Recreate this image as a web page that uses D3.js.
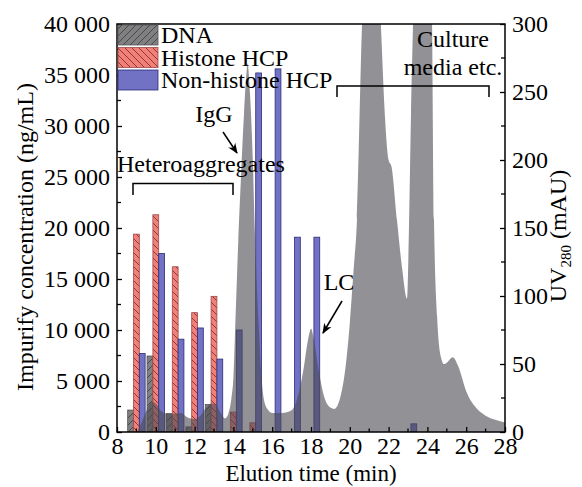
<!DOCTYPE html>
<html><head><meta charset="utf-8">
<script src="https://cdn.jsdelivr.net/npm/d3@7"></script>
<style>body{margin:0;background:#fff}svg{display:block}</style>
</head><body><svg id="c" width="582" height="487"></svg>
<script>
// ---- data ----
const groupTimes = [9, 10, 11, 12, 13, 14, 15, 16, 17, 18, 23];
const dnaValues = [2150, 7450, 1800, 500, 2700, 0, 0, 0, 0, 0, 0];
const histoneValues = [19400, 21300, 16200, 11700, 13300, 1950, 900, 0, 0, 0, 0];
const nonHistoneValues = [7700, 17500, 9100, 10200, 7150, 10000, 35200, 35600, 19100, 19100, 800];
const seriesNames = ["DNA", "Histone HCP", "Non-histone HCP"];
const uvTime = [8, 9.0, 9.2, 9.5, 9.8, 10.0, 10.3, 10.6, 11.0, 11.3, 11.6, 12.0, 12.3, 12.6, 12.9, 13.1, 13.3, 13.57, 13.75, 13.9, 14.0, 14.1, 14.25, 14.4, 14.55, 14.68, 14.73, 14.85, 15.0, 15.1, 15.2, 15.3, 15.45, 15.6, 15.8, 16.0, 16.5, 17.0, 17.3, 17.6, 17.85, 18.0, 18.15, 18.4, 18.7, 19.0, 19.2, 19.5, 19.8, 20.0, 20.2, 20.37, 20.63, 20.85, 21.1, 21.35, 21.6, 21.8, 22.0, 22.15, 22.43, 22.7, 22.95, 23.05, 23.15, 23.26, 23.5, 23.75, 24.0, 24.24, 24.34, 24.5, 24.7, 24.85, 25.0, 25.3, 25.6, 26.0, 26.5, 27.0, 27.5, 28];
const uvValue = [0, 0, 5, 15, 22, 21, 15, 13.5, 13.5, 14, 11, 9.5, 12, 18, 21, 20, 15, 10, 14, 25, 40, 80, 140, 190, 235, 265, 271, 250, 200, 150, 110, 80, 40, 22, 16, 14, 14, 16, 25, 45, 68, 76, 68, 45, 25, 18, 17, 25, 50, 80, 120, 156, 300, 380, 420, 380, 300, 235, 200, 195, 156, 120, 98, 150, 230, 300, 400, 430, 400, 300, 156, 85, 55, 50, 51, 55, 48, 30, 18, 12, 9, 7];
const xTickValues = [8, 10, 12, 14, 16, 18, 20, 22, 24, 26, 28];
const leftTickValues = [0, 5000, 10000, 15000, 20000, 25000, 30000, 35000, 40000];
const rightTickValues = [0, 50, 100, 150, 200, 250, 300];

// ---- layout ----
const L = 117, R = 505, T = 24, B = 432;
const FONT = "'Liberation Serif','Times New Roman',serif";
const svg = d3.select("#c");
const x = d3.scaleLinear().domain([8, 28]).range([L, R]);
const yL = d3.scaleLinear().domain([0, 40000]).range([B, T]);
const yR = d3.scaleLinear().domain([0, 300]).range([B, T]);
const half = 0.15, off = 0.3;

const defs = svg.append("defs");
function hatch(id, bg, line, dir) {
  const p = defs.append("pattern").attr("id", id).attr("patternUnits", "userSpaceOnUse")
    .attr("width", 7).attr("height", 7);
  p.append("rect").attr("width", 7).attr("height", 7).attr("fill", bg);
  const d = dir === "back" ? "M-1,-1 L8,8 M-1,6 L1,8 M6,-1 L8,1" : "M-1,8 L8,-1 M-1,1 L1,-1 M6,8 L8,6";
  p.append("path").attr("d", d).attr("stroke", line).attr("stroke-width", 0.8);
}
hatch("hDNA", "#808083", "#3a3a3a", "fwd");
hatch("hHis", "#f28079", "#6e2a2a", "back");
defs.append("clipPath").attr("id", "plotClip").append("rect")
  .attr("x", L).attr("y", T).attr("width", R - L).attr("height", B - T);

const groups = groupTimes.map((t, i) => ({ t, dna: dnaValues[i], his: histoneValues[i], non: nonHistoneValues[i] }));
const gBars = svg.append("g").attr("clip-path", "url(#plotClip)");
function bars(key, shift, fill, stroke) {
  gBars.selectAll(null).data(groups.filter(d => d[key] > 0)).enter().append("rect")
    .attr("x", d => x(d.t + shift - half))
    .attr("width", d => x(d.t + shift + half) - x(d.t + shift - half))
    .attr("y", d => yL(d[key]))
    .attr("height", d => yL(0) - yL(d[key]))
    .attr("fill", fill).attr("stroke", stroke).attr("stroke-width", 0.8);
}
bars("dna", -off, "url(#hDNA)", "#555");
bars("his", 0, "url(#hHis)", "#9a4a4a");
bars("non", off, "#7272c4", "#2c2c7c");

// UV trace
const uv = uvTime.map((t, i) => ({ t, v: uvValue[i] }));
const area = d3.area().x(d => x(d.t)).y0(yR(0)).y1(d => yR(d.v)).curve(d3.curveMonotoneX);
svg.append("path").datum(uv).attr("clip-path", "url(#plotClip)")
  .attr("d", area).attr("fill", "#4a4a50").attr("fill-opacity", 0.6);

// axes (major ticks with labels)
const axisStyle = g => {
  g.selectAll("text").attr("font-family", FONT).attr("font-size", 24).attr("fill", "#000");
  g.selectAll(".domain").remove();
  g.selectAll("line").attr("stroke", "#000").attr("stroke-width", 1.3);
};
const fmt = v => d3.format(",")(v).replace(/,/g, " ");
svg.append("g").attr("transform", `translate(0,${B})`)
  .call(d3.axisBottom(x).tickValues(xTickValues).tickSize(-5).tickPadding(5))
  .call(axisStyle);
svg.append("g").attr("transform", `translate(${L},0)`)
  .call(d3.axisLeft(yL).tickValues(leftTickValues).tickSize(-5).tickPadding(7).tickFormat(fmt))
  .call(axisStyle);
svg.append("g").attr("transform", `translate(${R},0)`)
  .call(d3.axisRight(yR).tickValues(rightTickValues).tickSize(-5).tickPadding(7))
  .call(axisStyle);

// minor ticks
const minor = svg.append("g").attr("stroke", "#000").attr("stroke-width", 1.3);
minor.selectAll(null).data(d3.range(9, 28, 2)).enter().append("line")
  .attr("x1", d => x(d)).attr("x2", d => x(d)).attr("y1", B).attr("y2", B - 3.5);
minor.selectAll(null).data(d3.range(2500, 40000, 5000)).enter().append("line")
  .attr("x1", L).attr("x2", L + 4).attr("y1", d => yL(d)).attr("y2", d => yL(d));
minor.selectAll(null).data(d3.range(25, 300, 50)).enter().append("line")
  .attr("x1", R).attr("x2", R - 4).attr("y1", d => yR(d)).attr("y2", d => yR(d));

// frame
svg.append("rect").attr("x", L).attr("y", T).attr("width", R - L).attr("height", B - T)
  .attr("fill", "none").attr("stroke", "#000").attr("stroke-width", 1.5);

// axis titles
const txt = (s, xx, yy, anchor, fs) => svg.append("text").attr("x", xx).attr("y", yy)
  .attr("font-family", FONT).attr("font-size", fs || 24).attr("text-anchor", anchor || "start").text(s);
txt("Elution time (min)", (L + R) / 2, 481, "middle", 23);
svg.append("text").attr("transform", "translate(33,237) rotate(-90)")
  .attr("font-family", FONT).attr("font-size", 24).attr("text-anchor", "middle")
  .text("Impurify concentration (ng/mL)");
const uvT = svg.append("text").attr("transform", "translate(566,236) rotate(-90)")
  .attr("font-family", FONT).attr("font-size", 24).attr("text-anchor", "middle");
uvT.append("tspan").text("UV");
uvT.append("tspan").attr("font-size", 15).attr("dy", 5).text("280");
uvT.append("tspan").attr("dy", -5).text(" (mAU)");

// legend
const legFill = ["url(#hDNA)", "url(#hHis)", "#7272c4"];
const legStroke = ["#555", "#9a4a4a", "#2c2c7c"];
seriesNames.forEach((n, i) => {
  const yy = 25 + i * 22.5;
  svg.append("rect").attr("x", L + 1).attr("y", yy).attr("width", 40).attr("height", 20)
    .attr("fill", legFill[i]).attr("stroke", legStroke[i]).attr("stroke-width", 0.8);
  txt(n, 161, yy + 18);
});

// annotations
const mk = defs.append("marker").attr("id", "arr").attr("viewBox", "0 0 10 10")
  .attr("refX", 9).attr("refY", 5).attr("markerWidth", 7).attr("markerHeight", 7)
  .attr("orient", "auto-start-reverse");
mk.append("path").attr("d", "M0,1 L10,5 L0,9 L3,5 Z").attr("fill", "#000");
txt("IgG", 214, 122, "middle");
svg.append("line").attr("x1", 223).attr("y1", 132).attr("x2", 237).attr("y2", 153)
  .attr("stroke", "#000").attr("stroke-width", 1.5).attr("marker-end", "url(#arr)");
txt("Heteroaggregates", 117, 172);
svg.append("path").attr("d", "M133,195 V183.5 H233 V195").attr("fill", "none").attr("stroke", "#000").attr("stroke-width", 1.5);
txt("LC", 339, 290, "middle");
svg.append("line").attr("x1", 342).attr("y1", 301).attr("x2", 323).attr("y2", 333)
  .attr("stroke", "#000").attr("stroke-width", 1.5).attr("marker-end", "url(#arr)");
txt("Culture", 453, 47, "middle");
txt("media etc.", 453, 75, "middle");
svg.append("path").attr("d", "M337,97 V86 H489 V97").attr("fill", "none").attr("stroke", "#000").attr("stroke-width", 1.5);
</script></body></html>
